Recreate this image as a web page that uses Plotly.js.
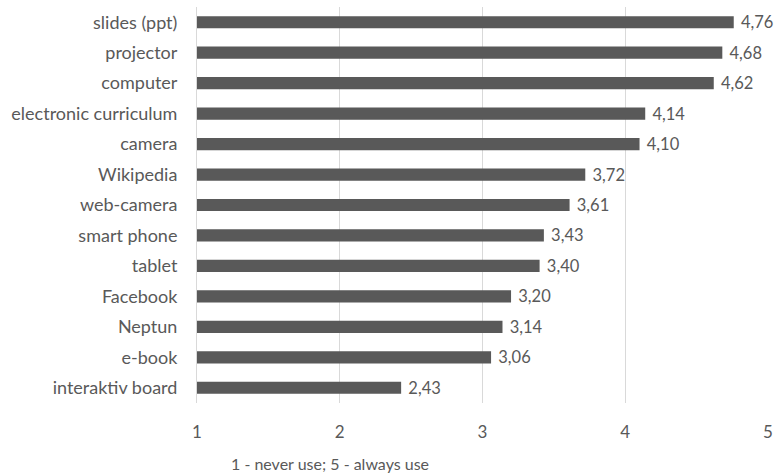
<!DOCTYPE html>
<html><head><meta charset="utf-8">
<script src="https://cdn.plot.ly/plotly-3.0.1.min.js"></script>
<style>html,body{margin:0;padding:0;background:#fff;}#chart{width:779px;height:473px;}</style>
</head><body><div id="chart"></div>
<script>
const categories = ["slides (ppt)", "projector", "computer", "electronic curriculum", "camera", "Wikipedia", "web-camera", "smart phone", "tablet", "Facebook", "Neptun", "e-book", "interaktiv board"];
const values = [4.76, 4.68, 4.62, 4.14, 4.10, 3.72, 3.61, 3.43, 3.40, 3.20, 3.14, 3.06, 2.43];
const xTicks = [1, 2, 3, 4, 5];
const axisNote = "1 - never use; 5 - always use";

const font = "Lato, 'Open Sans', sans-serif";
const fs = 18;
const trace = {
  type: "bar", orientation: "h",
  y: categories, x: values,
  marker: {color: "#595959"},
  width: 0.4,
  texttemplate: " %{x:.2f}", textposition: "outside", constraintext: "none",
  textfont: {family: font, size: 16.5, color: "#595959"},
  cliponaxis: false, hoverinfo: "none"
};
const layout = {
  width: 779, height: 473,
  margin: {l: 197, r: 11, t: 7, b: 70},
  separators: ", ",
  paper_bgcolor: "#fff", plot_bgcolor: "#fff",
  font: {family: font, size: fs, color: "#595959"},
  showlegend: false,
  xaxis: {range: [1, 5], tickvals: xTicks, showgrid: true, gridcolor: "#d9d9d9", gridwidth: 1,
          zeroline: false, showline: false, ticks: "", ticklabelstandoff: 17,
          tickfont: {family: font, size: 17, color: "#595959"}},
  yaxis: {type: "category", autorange: "reversed", showgrid: false, zeroline: false,
          showline: true, linecolor: "#d9d9d9", linewidth: 1,
          ticks: "", ticklabelstandoff: 15, tickfont: {family: font, size: fs, color: "#595959"}},
  annotations: [{text: axisNote, xref: "paper", yref: "paper", x: 0, y: 0, yshift: -60,
                 xanchor: "center", yanchor: "middle", showarrow: false,
                 font: {family: font, size: 16, color: "#595959"}}]
};
layout.annotations[0].x = (330 - 197) / 571;
Plotly.newPlot("chart", [trace], layout, {displayModeBar: false, staticPlot: true});
</script></body></html>
